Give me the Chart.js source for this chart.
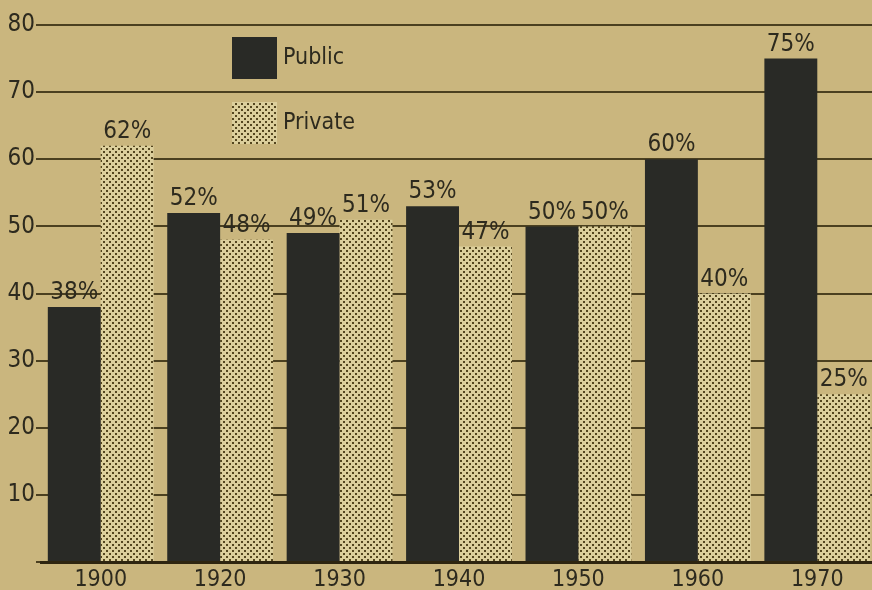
<!DOCTYPE html>
<html>
<head>
<meta charset="utf-8">
<script src="https://cdn.jsdelivr.net/npm/chart.js@4.4.1/dist/chart.umd.min.js"></script>
<style>
  html, body { margin: 0; padding: 0; background: #cab67e; overflow: hidden; }
  #wrap { width: 872px; height: 590px; position: relative; overflow: hidden; }
</style>
</head>
<body>
<div id="wrap"><canvas id="myChart" width="880" height="590"></canvas></div>
<script>
// datos
const years = ['1900', '1920', '1930', '1940', '1950', '1960', '1970']
const publicShare = [38, 52, 49, 53, 50, 60, 75]
const privateShare = [62, 48, 51, 47, 50, 40, 25]
const yTicks = [10, 20, 30, 40, 50, 60, 70, 80]
const seriesNames = ['Public', 'Private']

const fuente = '"DejaVu Sans Condensed", "Liberation Sans", sans-serif'
const tinta = '#2d2a1e'
const colorPublico = '#292a26'

// trama de puntos para la serie privada
function crearTrama() {
    const c = document.createElement('canvas')
    c.width = 6
    c.height = 6
    const g = c.getContext('2d')
    g.fillStyle = '#dccf9c'
    g.fillRect(0, 0, 6, 6)
    g.fillStyle = '#54461f'
    g.fillRect(1, 1, 2, 2)
    g.fillRect(4, 4, 2, 2)
    return g.createPattern(c, 'repeat')
}
const trama = crearTrama()

const etiquetasValor = {
    id: 'etiquetasValor',
    afterDatasetsDraw(chart) {
        const ctx = chart.ctx
        ctx.save()
        ctx.font = '24px ' + fuente
        ctx.fillStyle = tinta
        ctx.textAlign = 'center'
        ctx.textBaseline = 'bottom'
        chart.data.datasets.forEach((ds, i) => {
            chart.getDatasetMeta(i).data.forEach((bar, j) => {
                ctx.fillText(ds.data[j] + '%', bar.x, bar.y - 2)
            })
        })
        ctx.restore()
    }
}

const leyenda = {
    id: 'leyenda',
    afterDraw(chart) {
        const ctx = chart.ctx
        ctx.save()
        ctx.font = '23px ' + fuente
        ctx.textBaseline = 'middle'
        chart.data.datasets.forEach((ds, i) => {
            const y = 37 + i * 65
            ctx.fillStyle = ds.backgroundColor
            ctx.fillRect(232, y, 45, 42)
            ctx.fillStyle = tinta
            ctx.fillText(ds.label, 283, y + 21)
        })
        ctx.restore()
    }
}

const ctx = document.getElementById('myChart')

new Chart(ctx, {
    type: 'bar',
    data: {
        labels: years,
        datasets: [{
            label: seriesNames[0],
            data: publicShare,
            backgroundColor: colorPublico,
            borderWidth: 0
        }, {
            label: seriesNames[1],
            data: privateShare,
            backgroundColor: trama,
            borderWidth: 0
        }]
    },
    options: {
        responsive: false,
        animation: false,
        events: [],
        barPercentage: 1,
        categoryPercentage: 0.886,
        layout: { padding: { top: 25, left: 0, right: 3, bottom: 0 } },
        plugins: {
            legend: { display: false },
            tooltip: { enabled: false }
        },
        scales: {
            x: {
                grid: { display: false },
                border: { display: true, color: '#2e2510', width: 3 },
                ticks: {
                    color: tinta,
                    font: { family: fuente, size: 23 },
                    padding: -4
                },
                afterFit: s => { s.height = 28 }
            },
            y: {
                min: 0,
                max: 80,
                afterBuildTicks: s => {
                    s.ticks = [0].concat(yTicks).map(v => ({ value: v }))
                },
                border: { display: false },
                grid: {
                    color: '#4b4020',
                    lineWidth: 2,
                    tickLength: 5,
                    tickColor: '#4b4020'
                },
                ticks: {
                    color: tinta,
                    font: { family: fuente, size: 24 },
                    padding: 1,
                    callback: v => v === 0 ? '' : v
                },
                afterFit: s => { s.width = 41 }
            }
        }
    },
    plugins: [etiquetasValor, leyenda]
})
</script>
</body>
</html>
